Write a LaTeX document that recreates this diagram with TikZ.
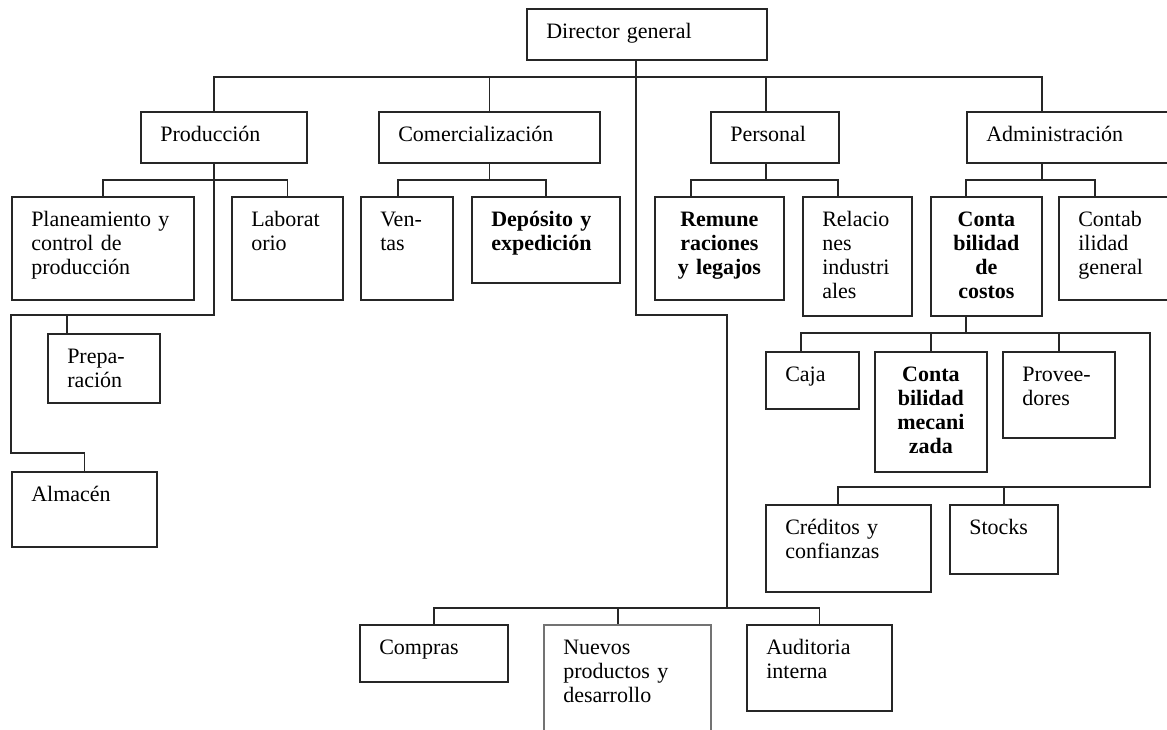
\documentclass[tikz,border=0pt]{standalone}
\usepackage{fontspec}
\setmainfont{Liberation Serif}
\usepackage{tikz}

\tikzset{
  unit/.style={x=0.75pt,y=-0.75pt},
  orgbox/.style={line width=1.3pt,inner sep=0pt,anchor=north west},
  orgtext/.style={inner sep=0pt,font=\fontsize{16.5}{18}\selectfont},
  link/.style={draw=black!85,line width=1.3pt},
}

\begin{document}
\begin{tikzpicture}[unit]
\clip (0,0) rectangle (1167,729);
% boxes, text at the left
\foreach \n/\x/\y/\w/\h/\c/\t in {
  dir/526/8/240/51/black!85/{Director general},
  prod/140/111/166/51/black!85/{Producción},
  com/378/111/221/51/black!85/{Comercialización},
  per/710/111/128/51/black!85/{Personal},
  adm/966/111/230/51/black!85/{Administración},
  plan/11/196/182/103/black!85/{Planeamiento y\\control de\\producción},
  lab/231/196/111/103/black!85/{Laborat\\orio},
  ven/360/196/92/103/black!85/{Ven-\\tas},
  dep/471/196/148/86/black!85/{\bfseries Depósito y\\expedición},
  rel/802/196/109/119/black!85/{Relacio\\nes\\industri\\ales},
  gen/1058/196/130/103/black!85/{Contab\\ilidad\\general},
  prep/47/333/112/69/black!85/{Prepa-\\ración},
  alm/11/471/145/75/black!85/{Almacén},
  caja/765/351/93/57/black!85/{Caja},
  prov/1002/351/112/86/black!85/{Provee-\\dores},
  cre/765/504/165/87/black!85/{Créditos y\\confianzas},
  sto/949/504/108/69/black!85/{Stocks},
  cmp/359/624/148/57/black!85/{Compras},
  nue/543/624/167/120/gray!90!black/{Nuevos\\productos y\\desarrollo},
  aud/746/624/145/86/black!85/{Auditoria\\interna}}{
  \pgfmathsetmacro\bw{\w*0.75}
  \pgfmathsetmacro\bh{\h*0.75}
  \pgfmathsetmacro\tw{(\w-22)*0.75}
  \node[orgbox,draw=\c,minimum width=\bw pt,minimum height=\bh pt] (\n) at (\x,\y) {};
  \node[orgtext,anchor=base west,text width=\tw pt,align=left] (\n-t)
    at ([shift={(20,30)}]\n.north west) {\t};
}
% boxes, bold text in the middle
\foreach \n/\x/\y/\w/\h/\t in {
  rem/654/196/129/103/{Remune\\raciones\\y legajos},
  cos/930/196/111/119/{Conta\\bilidad\\de\\costos},
  mec/874/351/112/120/{Conta\\bilidad\\mecani\\zada}}{
  \pgfmathsetmacro\bw{\w*0.75}
  \pgfmathsetmacro\bh{\h*0.75}
  \node[orgbox,draw=black!85,minimum width=\bw pt,minimum height=\bh pt] (\n) at (\x,\y) {};
  \node[orgtext,anchor=base,text width=\bw pt,align=center,font=\fontsize{16.5}{18}\selectfont\bfseries] (\n-t)
    at ([shift={(0,30)}]\n.north) {\t};
}

% top level
\coordinate (j-prod) at (214,77);
\coordinate (j-dir) at (636,77);
\coordinate (j-per) at (766,77);
\coordinate (j-adm) at (1042,77);
\draw[link] (dir.south -| j-dir) -- (j-dir);
\draw[link] (j-prod |- prod.north) -- (j-prod) -- (j-adm) -- (j-adm |- adm.north);
\draw[link] (com.north) -- (com.north |- j-prod);
\draw[link] (j-per) -- (j-per |- per.north);

% staff line down to the bottom row
\coordinate (j-d1) at (636,315);
\coordinate (j-d2) at (727,315);
\coordinate (j-low) at (727,608);
\coordinate (j-nue) at (618,608);
\draw[link] (j-dir) -- (j-d1) -- (j-d2) -- (j-low);
\draw[link] (cmp.north) |- (j-low) -| (aud.north);
\draw[link] (j-nue) -- (j-nue |- nue.north);

% Produccion
\coordinate (j-pr1) at (214,180);
\coordinate (j-pr2) at (214,315);
\coordinate (j-pr3) at (11,315);
\coordinate (j-pr4) at (11,453);
\coordinate (j-prep) at (67,315);
\draw[link] (j-prod |- prod.south) -- (j-pr2) -- (j-pr3) -- (j-pr4) -| (alm.north);
\draw[link] (plan.north) |- (j-pr1) -| (lab.north);
\draw[link] (j-prep) -- (j-prep |- prep.north);

% Comercializacion
\coordinate (j-ven) at (398,180);
\draw[link] (com.south) -- (com.south |- j-ven);
\draw[link] (j-ven |- ven.north) -- (j-ven) -| (dep.north);

% Personal
\coordinate (j-rem) at (691,180);
\coordinate (j-rel) at (838,180);
\draw[link] (j-per |- per.south) -- (j-per |- j-rem);
\draw[link] (j-rem |- rem.north) -- (j-rem) -- (j-rel) -- (j-rel |- rel.north);

% Administracion
\coordinate (j-cos) at (966,180);
\coordinate (j-gen) at (1095,180);
\draw[link] (j-adm |- adm.south) -- (j-adm |- j-cos);
\draw[link] (j-cos |- cos.north) -- (j-cos) -- (j-gen) -- (j-gen |- gen.north);

% Contabilidad de costos
\coordinate (j-c1) at (966,333);
\coordinate (j-caja) at (801,333);
\coordinate (j-r1) at (1150,333);
\coordinate (j-r2) at (1150,487);
\coordinate (j-cre) at (838,487);
\draw[link] (j-c1 |- cos.south) -- (j-c1);
\draw[link] (j-caja |- caja.north) -- (j-caja) -- (j-r1) -- (j-r2) -- (j-cre) -- (j-cre |- cre.north);
\draw[link] (mec.north) -- (mec.north |- j-c1);
\draw[link] (prov.north) -- (prov.north |- j-c1);
\draw[link] (sto.north) -- (sto.north |- j-r2);
\end{tikzpicture}
\end{document}
